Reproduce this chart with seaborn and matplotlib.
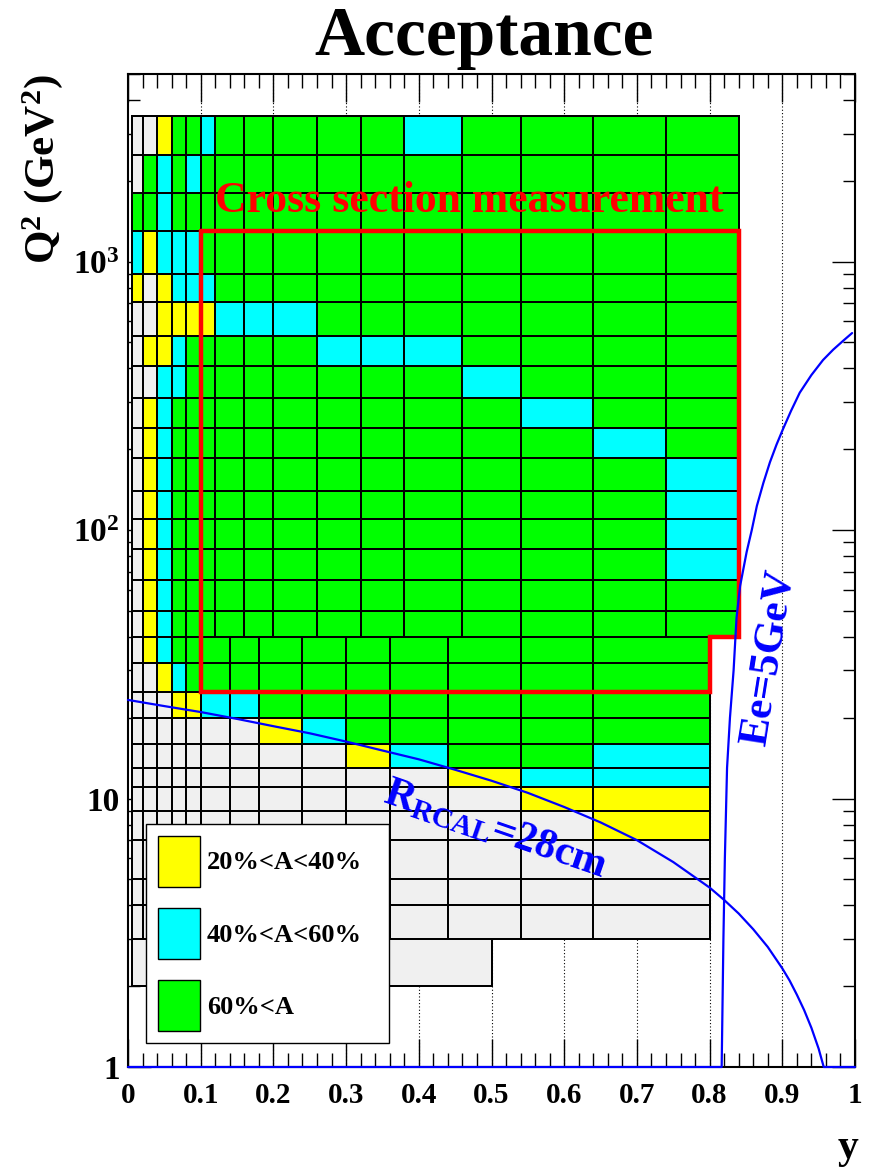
import numpy as np
import pandas as pd
import matplotlib
matplotlib.use("Agg")
import matplotlib.pyplot as plt
import seaborn as sns
from matplotlib.colors import ListedColormap
from matplotlib.patches import Patch
from matplotlib.ticker import FixedLocator, MultipleLocator, LogLocator, NullFormatter

# ---------------- data ----------------
# upper binning (Q2 >= 40)
y_edges_hi = [0.005, 0.02, 0.04, 0.06, 0.08, 0.10, 0.12, 0.16, 0.20, 0.26,
              0.32, 0.38, 0.46, 0.54, 0.64, 0.74, 0.84]
q2_edges_hi = [40, 50, 65, 85, 110, 140, 185, 240, 310, 410, 530, 710, 900,
               1300, 1800, 2500, 3500]
# rows listed from top (Q2=2500-3500) to bottom (40-50)
# w: A<20%, y: 20-40%, c: 40-60%, g: >60%
rows_hi = [
    "wwyggcgggggcgggg",
    "wgcgcggggggggggg",
    "ggcggggggggggggg",
    "cycccggggggggggg",
    "ywycccgggggggggg",
    "wwyyyycccggggggg",
    "wyycgggggcccgggg",
    "wwccggggggggcggg",
    "wycggggggggggcgg",
    "wycgggggggggggcg",
    "wycggggggggggggc",
    "wycggggggggggggc",
    "wycggggggggggggc",
    "wycggggggggggggc",
    "wycggggggggggggg",
    "wycggggggggggggg",
]
# lower binning (3 <= Q2 <= 40)
y_edges_lo = [0.005, 0.02, 0.04, 0.06, 0.08, 0.10, 0.14, 0.18, 0.24, 0.30,
              0.36, 0.44, 0.54, 0.64, 0.80]
q2_edges_lo = [3, 4, 5, 7, 9, 11, 13, 16, 20, 25, 32, 40]
rows_lo = [
    "wycggggggggggg",
    "wwycgggggggggg",
    "wwwyyccggggggg",
    "wwwwwwwycggggg",
    "wwwwwwwwwycggc",
    "wwwwwwwwwwwycc",
    "wwwwwwwwwwwwyy",
    "wwwwwwwwwwwwwy",
    "wwwwwwwwwwwwww",
    "wwwwwwwwwwwwww",
    "wwwwwwwwwwwwww",
]
# lowest strip
y_edges_strip = [0.005, 0.50]
q2_edges_strip = [2, 3]
rows_strip = ["w"]

# cross-section measurement region (bin boundaries)
box_y = [0.10, 0.84, 0.84, 0.80, 0.80, 0.10, 0.10]
box_q2 = [1300, 1300, 40, 40, 25, 25, 1300]

# R_RCAL = 28 cm line
rcal_y = [0.0, 0.05, 0.1, 0.15, 0.2, 0.25, 0.3, 0.35, 0.4, 0.45, 0.5, 0.55,
          0.6, 0.65, 0.7, 0.75, 0.8, 0.82, 0.84, 0.86, 0.88, 0.9, 0.91, 0.92,
          0.93, 0.94, 0.95, 0.957, 0.965, 1.0]
rcal_q2 = [23.3, 22.1, 21.0, 19.8, 18.6, 17.5, 16.3, 15.1, 14.0, 12.8, 11.65,
           10.5, 9.3, 8.15, 7.0, 5.8, 4.66, 4.19, 3.73, 3.26, 2.8, 2.33, 2.1,
           1.86, 1.63, 1.4, 1.17, 1.0, 1.0, 1.0]
# Ee' = 5 GeV line
ee_y = [0.0, 0.8166, 0.819, 0.821, 0.824, 0.828, 0.833, 0.837, 0.842, 0.851,
        0.858, 0.865, 0.874, 0.883, 0.892, 0.901, 0.912, 0.924, 0.94, 0.956,
        0.97, 0.984, 0.996]
ee_q2 = [1, 1, 3, 6, 13, 20, 30, 47, 62, 83, 100, 123, 150, 179, 208, 238,
         278, 325, 378, 430, 470, 508, 542]

legend_labels = ["20%<A<40%", "40%<A<60%", "60%<A"]
code_colors = {"w": "#f0f0f0", "y": "#ffff00", "c": "#00ffff", "g": "#00ff00"}
codes = "wycg"

x_ticks = [0, 0.1, 0.2, 0.3, 0.4, 0.5, 0.6, 0.7, 0.8, 0.9, 1.0]
x_ticklabels = ["0", "0.1", "0.2", "0.3", "0.4", "0.5", "0.6", "0.7", "0.8", "0.9", "1"]
y_ticks = [1, 10, 100, 1000]
y_ticklabels = ["1", "10", r"$\mathbf{10^{2}}$", r"$\mathbf{10^{3}}$"]

# ---------------- style ----------------
sns.set_theme(style="ticks")
plt.rcParams["font.family"] = ["Liberation Serif", "DejaVu Serif"]
plt.rcParams["font.weight"] = "bold"
plt.rcParams["mathtext.fontset"] = "custom"
plt.rcParams["mathtext.bf"] = "Liberation Serif:bold"
plt.rcParams["mathtext.rm"] = "Liberation Serif:bold"
plt.rcParams["mathtext.it"] = "Liberation Serif:bold:italic"
for k in ["text.color", "axes.labelcolor", "xtick.color", "ytick.color",
          "xtick.labelcolor", "ytick.labelcolor"]:
    plt.rcParams[k] = "black"

fig = plt.figure(figsize=(8.72, 11.68), dpi=100)
ax = fig.add_axes([128 / 872, 1 - 1067 / 1168, 727 / 872, 993 / 1168])
ax.set_yscale("log")
ax.set_xlim(0, 1)
ax.set_ylim(1, 5000)

cmap = ListedColormap([code_colors[c] for c in codes])


def draw_cells(xe, ye, rows):
    C = np.array([[codes.index(ch) for ch in r] for r in rows[::-1]], dtype=float)
    ax.pcolormesh(xe, ye, C, cmap=cmap, vmin=-0.5, vmax=3.5,
                  edgecolors="black", linewidth=1.2, zorder=1)


draw_cells(y_edges_hi, q2_edges_hi, rows_hi)
draw_cells(y_edges_lo, q2_edges_lo, rows_lo)
draw_cells(y_edges_strip, q2_edges_strip, rows_strip)

# grid
ax.grid(False)
for xv in x_ticks[1:-1]:
    ax.axvline(xv, color="black", lw=0.8, ls=(0, (1, 2)), zorder=0.5)

# red box
ax.plot(box_y, box_q2, color="red", lw=3.2, zorder=3, solid_joinstyle="miter")

# blue lines via seaborn
df_rcal = pd.DataFrame({"y": rcal_y, "Q2": rcal_q2})
df_ee = pd.DataFrame({"y": ee_y, "Q2": ee_q2})
sns.lineplot(data=df_rcal, x="y", y="Q2", sort=False, estimator=None,
             color="#0000ff", lw=1.6, ax=ax, zorder=4, clip_on=False)
sns.lineplot(data=df_ee, x="y", y="Q2", sort=False, estimator=None,
             color="#0000ff", lw=1.6, ax=ax, zorder=4, clip_on=False)

# texts
ax.text(0.47, 1537, "Cross section measurement", color="red", fontsize=31.5,
        fontweight="bold", ha="center", va="baseline", zorder=5)
ax.text(0.505, 7.6, r"$\mathbf{R_{RCAL}}$=28cm", color="#0000ff", fontsize=30,
        fontweight="bold", rotation=-19, rotation_mode="anchor", ha="center",
        va="center", zorder=5)
ax.text(0.882, 33.6, "Ee=5GeV", color="#0000ff", fontsize=31, fontweight="bold",
        rotation=81, rotation_mode="anchor", ha="center", va="center", zorder=5)

# axes/ticks
ax.set_xticks(x_ticks)
ax.set_xticklabels(x_ticklabels)
ax.xaxis.set_minor_locator(MultipleLocator(0.02))
ax.yaxis.set_major_locator(FixedLocator(y_ticks))
ax.set_yticklabels(y_ticklabels)
ax.yaxis.set_minor_locator(LogLocator(base=10, subs=np.arange(2, 10)))
ax.yaxis.set_minor_formatter(NullFormatter())
ax.tick_params(which="both", direction="in", top=True, right=True, color="black")
ax.tick_params(axis="x", which="major", length=20, width=1.0, pad=11, labelsize=21)
ax.tick_params(axis="x", which="minor", length=10, width=1.0)
ax.tick_params(axis="y", which="major", length=16.5, width=1.0, pad=6, labelsize=24)
ax.tick_params(axis="y", which="minor", length=8.5, width=1.0)
for s in ax.spines.values():
    s.set_linewidth(1.5)
    s.set_color("black")
    s.set_zorder(3.5)

ax.set_xlabel("y", fontsize=30, fontweight="bold", loc="right")
ax.xaxis.set_label_coords(1.004, -0.062)
ax.set_ylabel(r"$\mathbf{Q^{2}\ (GeV^{2})}$", fontsize=31, loc="top")
ax.yaxis.set_label_coords(-0.086, 1.0)

# legend
handles = [Patch(facecolor=code_colors[c], edgecolor="black", lw=1.0) for c in "ycg"]
leg = ax.legend(handles, legend_labels, loc="lower left",
                bbox_to_anchor=(0.0248, 0.0242, 0.334, 0.22), mode="expand",
                borderaxespad=0, prop={"family": "Liberation Serif", "weight": "bold", "size": 19},
                handlelength=1.61, handleheight=2.6, labelspacing=0.8,
                borderpad=0.44, handletextpad=0.25, fancybox=False,
                framealpha=1, edgecolor="black", facecolor="white")
leg.get_frame().set_linewidth(1.0)
leg.set_zorder(6)

fig.text(484 / 872, 1 - 55 / 1168, "Acceptance", fontsize=50, fontweight="bold",
         ha="center", va="baseline")

fig.savefig("out.png", dpi=100)
